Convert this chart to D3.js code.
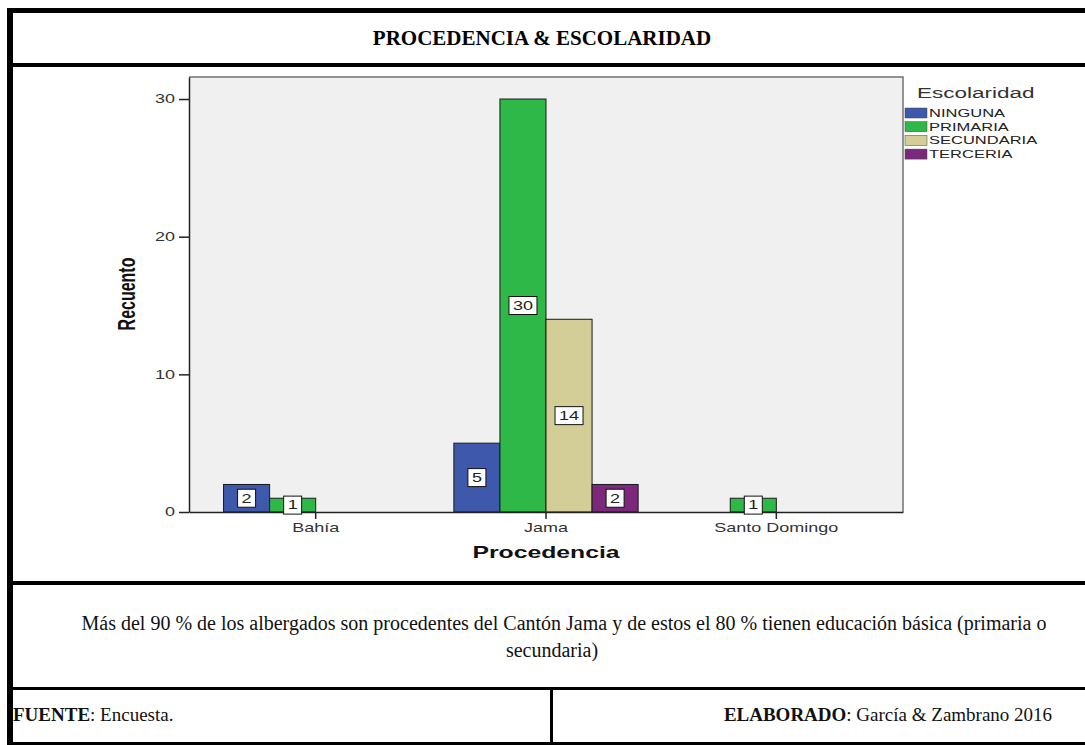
<!DOCTYPE html>
<html>
<head>
<meta charset="utf-8">
<script src="https://cdn.jsdelivr.net/npm/d3@7"></script>
<style>
  body { margin: 0; background: #fff; }
  svg { display: block; }
</style>
</head>
<body>
<svg id="canvas"></svg>
<script>
const procedencia = ["Bahía", "Jama", "Santo Domingo"];
const escolaridad = ["NINGUNA", "PRIMARIA", "SECUNDARIA", "TERCERIA"];
const ninguna = [2, 5, 0];
const primaria = [1, 30, 1];
const secundaria = [0, 14, 0];
const terceria = [0, 2, 0];
const yTicks = [0, 10, 20, 30];
const colores = ["#3e58ac", "#2eb848", "#d3ce97", "#7c287d"];

const titulo = "PROCEDENCIA & ESCOLARIDAD";
const nota = [
    "Más del 90 % de los albergados son procedentes del Cantón Jama y de estos el 80 % tienen educación básica (primaria o",
    "secundaria)"
];

const W = 1085, H = 745;
const SX = 1.5; // the SPSS picture is stretched sideways
const sans = "'Liberation Sans', Arial, sans-serif";
const serif = "'Liberation Serif', 'Times New Roman', serif";

const svg = d3.select("#canvas").attr("width", W).attr("height", H);

// ---- table frame ----
const frame = svg.append("g").attr("fill", "#000");
frame.append("rect").attr("x", 7).attr("y", 8).attr("width", W - 7).attr("height", 5);
frame.append("rect").attr("x", 7).attr("y", 8).attr("width", 6).attr("height", H - 8);
frame.append("rect").attr("x", 7).attr("y", 63).attr("width", W - 7).attr("height", 4);
frame.append("rect").attr("x", 7).attr("y", 581).attr("width", W - 7).attr("height", 4);
frame.append("rect").attr("x", 7).attr("y", 687).attr("width", W - 7).attr("height", 3);
frame.append("rect").attr("x", 7).attr("y", 742).attr("width", W - 7).attr("height", 3);
frame.append("rect").attr("x", 550).attr("y", 687).attr("width", 3).attr("height", H - 687);

svg.append("text")
    .attr("x", 542).attr("y", 38)
    .attr("text-anchor", "middle").attr("dominant-baseline", "central")
    .style("font-family", serif).style("font-size", "21px").style("font-weight", "bold")
    .text(titulo);

// ---- chart ----
const plot = { left: 189, right: 903, top: 77, bottom: 512 };

const x0 = d3.scaleBand()
    .domain(procedencia)
    .range([plot.left, plot.right])
    .paddingInner(0)
    .paddingOuter(0.05);

const x1 = d3.scaleBand()
    .domain(escolaridad)
    .range([0, x0.bandwidth() * 0.8]);

const y = d3.scaleLinear()
    .domain([0, 31.6])
    .range([plot.bottom, plot.top]);

const color = d3.scaleOrdinal().domain(escolaridad).range(colores);

svg.append("rect")
    .attr("x", plot.left).attr("y", plot.top)
    .attr("width", plot.right - plot.left).attr("height", plot.bottom - plot.top)
    .attr("fill", "#f0f0f0");
svg.append("path")
    .attr("d", `M${plot.left},${plot.top}H${plot.right}V${plot.bottom}`)
    .attr("fill", "none").attr("stroke", "#707070").attr("stroke-width", 1.5);

const series = [ninguna, primaria, secundaria, terceria];
const barras = procedencia.flatMap((p, pi) =>
    escolaridad.map((k, ki) => ({ p, k, v: series[ki][pi] }))
).filter(d => d.v > 0);

const barX = d => x0(d.p) + x0.bandwidth() * 0.1 + x1(d.k);

svg.append("g")
    .selectAll("rect")
    .data(barras)
    .enter()
    .append("rect")
    .attr("x", barX)
    .attr("y", d => y(d.v))
    .attr("width", x1.bandwidth())
    .attr("height", d => y(0) - y(d.v))
    .attr("fill", d => color(d.k))
    .attr("stroke", "#1a1a1a")
    .attr("stroke-width", 1);

// axes
const yAxis = svg.append("g")
    .attr("transform", `translate(${plot.left},0)`)
    .call(d3.axisLeft(y).tickValues(yTicks).tickSize(10).tickSizeOuter(0));
yAxis.select(".domain").attr("stroke", "#222").attr("stroke-width", 1.5);
yAxis.selectAll(".tick line").attr("stroke", "#222").attr("stroke-width", 1.5);
yAxis.selectAll(".tick text")
    .attr("x", -14 / SX)
    .attr("transform", `scale(${SX},1)`)
    .attr("fill", "#333")
    .style("font-family", sans).style("font-size", "12px");

const xAxis = svg.append("g")
    .attr("transform", `translate(0,${plot.bottom})`)
    .call(d3.axisBottom(x0).tickSize(7).tickSizeOuter(0).tickPadding(4));
xAxis.select(".domain").attr("stroke", "#222").attr("stroke-width", 1.5);
xAxis.selectAll(".tick line").attr("stroke", "#222").attr("stroke-width", 1.5);
xAxis.selectAll(".tick text")
    .attr("transform", `scale(${SX},1)`)
    .attr("fill", "#333")
    .style("font-family", sans).style("font-size", "12px");

// value labels
const etiquetas = svg.append("g")
    .selectAll("g")
    .data(barras)
    .enter()
    .append("g")
    .attr("transform", d => `translate(${barX(d) + x1.bandwidth() / 2},${y(d.v / 2)})`);

etiquetas.append("rect");
etiquetas.append("text")
    .attr("text-anchor", "middle")
    .attr("dominant-baseline", "central")
    .attr("transform", `scale(${SX},1)`)
    .style("font-family", sans).style("font-size", "12px")
    .attr("fill", "#222")
    .text(d => d.v);

etiquetas.each(function () {
    const g = d3.select(this);
    const w = g.select("text").node().getComputedTextLength() * SX + 8;
    g.select("rect")
        .attr("x", -w / 2).attr("y", -9)
        .attr("width", w).attr("height", 18)
        .attr("fill", "#fff").attr("stroke", "#111").attr("stroke-width", 1);
});

// axis titles
svg.append("text")
    .attr("transform", `translate(${(plot.left + plot.right) / 2},558) scale(${SX},1)`)
    .attr("text-anchor", "middle")
    .style("font-family", sans).style("font-size", "16.5px").style("font-weight", "bold")
    .attr("fill", "#111")
    .text("Procedencia");

svg.append("text")
    .attr("transform", `translate(135,294) scale(${SX},1) rotate(-90)`)
    .attr("text-anchor", "middle")
    .style("font-family", sans).style("font-size", "16px").style("font-weight", "bold")
    .attr("fill", "#111")
    .text("Recuento");

// legend
const legend = svg.append("g").attr("transform", "translate(905,0)");
legend.append("text")
    .attr("transform", `translate(12,98) scale(${SX},1)`)
    .style("font-family", sans).style("font-size", "15px")
    .attr("fill", "#333")
    .text("Escolaridad");

const items = legend.selectAll("g.item")
    .data(escolaridad)
    .enter()
    .append("g")
    .attr("class", "item")
    .attr("transform", (d, i) => `translate(0,${113 + i * 13.7})`);
items.append("rect")
    .attr("x", 0).attr("y", -5)
    .attr("width", 22).attr("height", 10)
    .attr("fill", d => color(d))
    .attr("stroke", "#444").attr("stroke-width", 0.5);
items.append("text")
    .attr("transform", `translate(24,0) scale(${SX},1)`)
    .attr("dominant-baseline", "central")
    .style("font-family", sans).style("font-size", "11px")
    .attr("fill", "#222")
    .text(d => d);

// ---- note and footer ----
svg.append("g")
    .selectAll("text")
    .data(nota)
    .enter()
    .append("text")
    .attr("x", (d, i) => i === 0 ? 564 : 552)
    .attr("y", (d, i) => 630 + i * 27)
    .attr("text-anchor", "middle")
    .style("font-family", serif).style("font-size", "20px")
    .attr("fill", "#111")
    .text(d => d);

const fuente = svg.append("text")
    .attr("x", 13).attr("y", 721)
    .style("font-family", serif).style("font-size", "19px")
    .attr("fill", "#111");
fuente.append("tspan").style("font-weight", "bold").text("FUENTE");
fuente.append("tspan").text(": Encuesta.");

const elaborado = svg.append("text")
    .attr("x", 888).attr("y", 721)
    .attr("text-anchor", "middle")
    .style("font-family", serif).style("font-size", "19px")
    .attr("fill", "#111");
elaborado.append("tspan").style("font-weight", "bold").text("ELABORADO");
elaborado.append("tspan").text(": García & Zambrano 2016");
</script>
</body>
</html>
